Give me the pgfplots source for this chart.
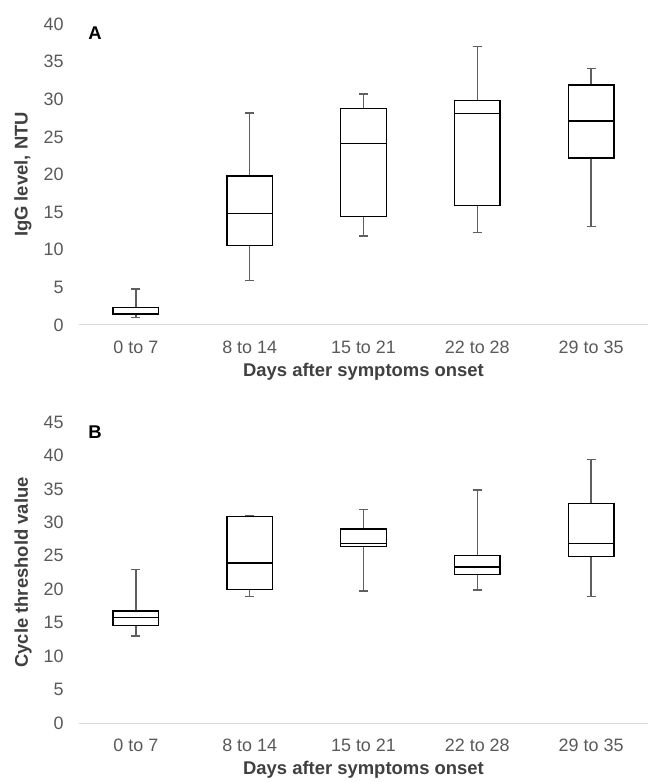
\documentclass[border=0pt]{standalone}
\usepackage{pgfplots}
\pgfplotsset{compat=1.18}
\usepgfplotslibrary{statistics}
\usepackage{fontspec}
\setmainfont{Liberation Sans}
\definecolor{tickgray}{HTML}{595959}
\definecolor{labgray}{HTML}{404040}
\definecolor{whisk}{HTML}{5F5F5F}
\definecolor{axgray}{HTML}{D9D9D9}
\pgfplotsset{
  panel/.style={
    scale only axis, width=569bp, height=301bp,
    xmin=-0.5, xmax=4.5, ymin=0,
    xtick={0,...,4},
    xticklabels={0 to 7, 8 to 14, 15 to 21, 22 to 28, 29 to 35},
    axis x line=bottom, axis y line=left,
    x axis line style={-, draw=axgray, line width=1bp},
    y axis line style={draw=none},
    major tick length=0pt,
    tick style={draw=none},
    /pgf/number format/assume math mode=true,
    tick label style={font=\fontsize{18}{21}\selectfont, text=tickgray},
    xticklabel style={yshift=-12bp},
    yticklabel style={xshift=-12bp},
    xlabel={Days after symptoms onset},
    every axis x label/.style={at={(axis description cs:0.5,0)}, anchor=center, yshift=-47bp,
      font=\bfseries\fontsize{18.5}{22}\selectfont, text=labgray},
    every axis y label/.style={at={(axis description cs:-0.0984,0.5)}, rotate=90, anchor=center,
      font=\bfseries\fontsize{18.5}{22}\selectfont, text=labgray},
    clip=false,
    boxplot/draw direction=y,
    boxplot/box extend=0.4,
    boxplot/whisker extend=0.08,
    boxplot/every box/.style={draw=black, line width=1.4bp},
    boxplot/every median/.style={draw=black, line width=1.4bp},
    boxplot/every whisker/.style={draw=whisk, line width=1.5bp},
  },
}
\begin{document}
\begin{tikzpicture}
\path[use as bounding box] (0,0) rectangle (648bp,782bp);
% Panel A
\begin{axis}[panel, at={(79bp,457bp)}, anchor=south west, ymax=40, ytick={0,5,...,40},
  ylabel={IgG level, NTU}]
\addplot[boxplot prepared={draw position=0, lower whisker=1.0, lower quartile=1.42, median=1.45, upper quartile=2.3, upper whisker=4.8}] coordinates {};
\addplot[boxplot prepared={draw position=1, lower whisker=5.9, lower quartile=10.6, median=14.8, upper quartile=19.8, upper whisker=28.2}] coordinates {};
\addplot[boxplot prepared={draw position=2, lower whisker=11.85, lower quartile=14.4, median=24.1, upper quartile=28.8, upper whisker=30.7}] coordinates {};
\addplot[boxplot prepared={draw position=3, lower whisker=12.3, lower quartile=15.9, median=28.1, upper quartile=29.8, upper whisker=37.0}] coordinates {};
\addplot[boxplot prepared={draw position=4, lower whisker=13.1, lower quartile=22.2, median=27.1, upper quartile=31.9, upper whisker=34.1}] coordinates {};
\node[font=\bfseries\fontsize{18.5}{22}\selectfont, text=black] at (axis description cs:0.028,0.968) {A};
\end{axis}
% Panel B
\begin{axis}[panel, at={(79bp,59bp)}, anchor=south west, ymax=45, ytick={0,5,...,45},
  ylabel={Cycle threshold value}]
\addplot[boxplot prepared={draw position=0, lower whisker=13.0, lower quartile=14.6, median=15.8, upper quartile=16.74, upper whisker=22.98}] coordinates {};
\addplot[boxplot prepared={draw position=1, lower whisker=18.9, lower quartile=19.95, median=23.9, upper quartile=30.9, upper whisker=31.0}] coordinates {};
\addplot[boxplot prepared={draw position=2, lower whisker=19.75, lower quartile=26.36, median=26.86, upper quartile=29.0, upper whisker=31.9}] coordinates {};
\addplot[boxplot prepared={draw position=3, lower whisker=19.9, lower quartile=22.2, median=23.3, upper quartile=25.0, upper whisker=34.8}] coordinates {};
\addplot[boxplot prepared={draw position=4, lower whisker=18.9, lower quartile=24.9, median=26.8, upper quartile=32.8, upper whisker=39.4}] coordinates {};
\node[font=\bfseries\fontsize{18.5}{22}\selectfont, text=black] at (axis description cs:0.028,0.966) {B};
\end{axis}
\end{tikzpicture}
\end{document}
